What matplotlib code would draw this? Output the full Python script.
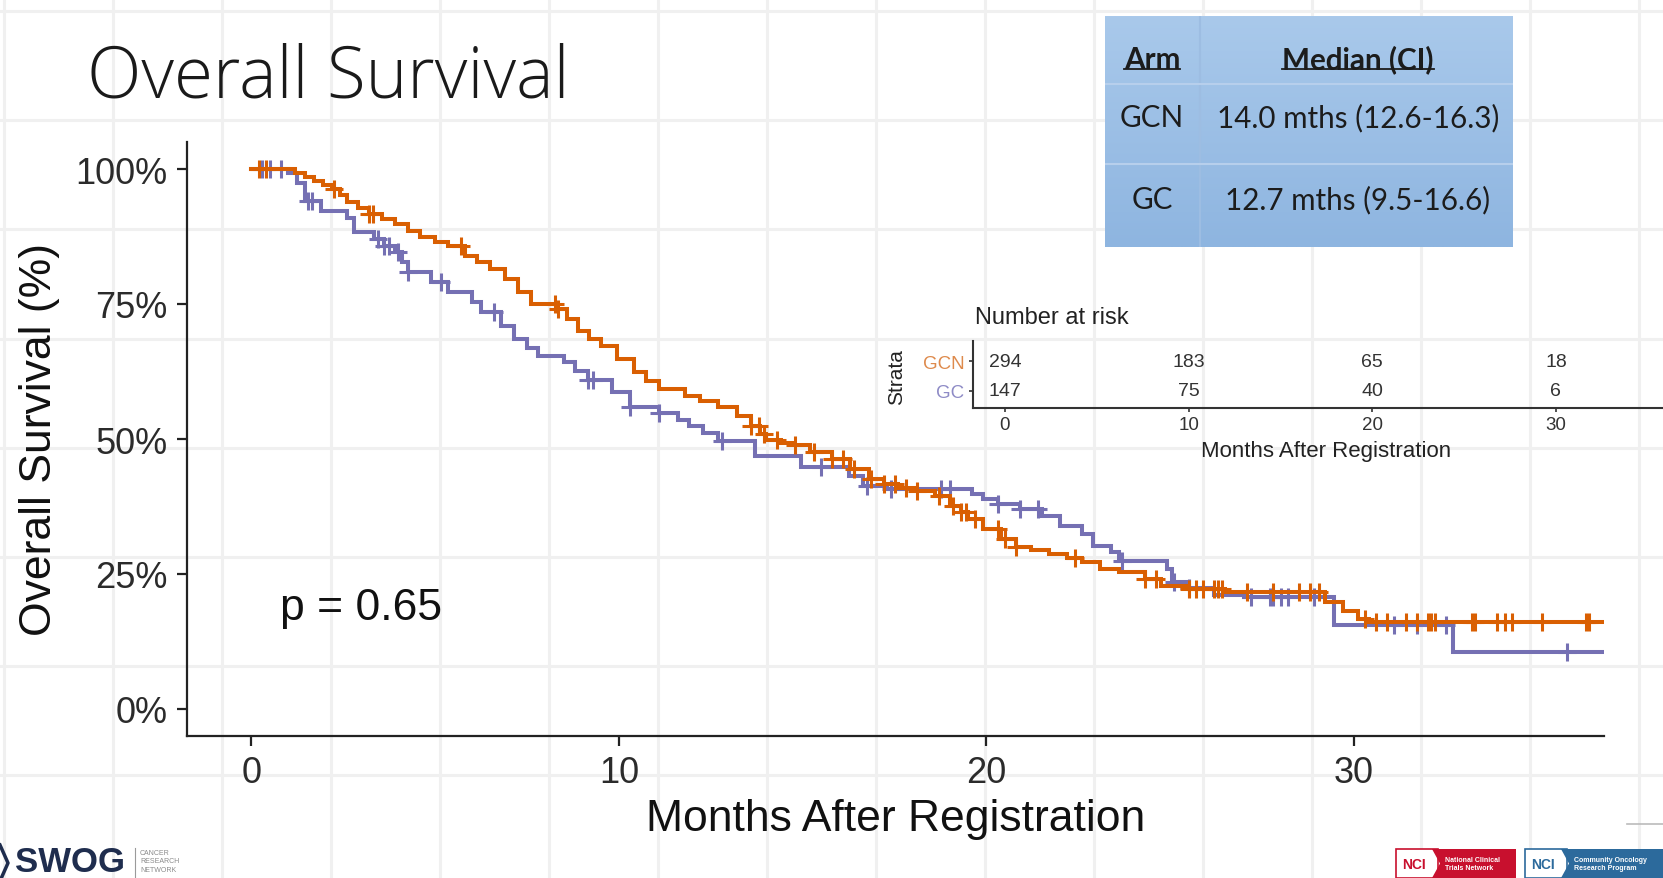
import numpy as np
import matplotlib
matplotlib.use("Agg")
import matplotlib.pyplot as plt
from matplotlib.lines import Line2D
from matplotlib.patches import Rectangle, Polygon

# ---------------- data ----------------
title = "Overall Survival"
arm_names = ["GCN", "GC"]
arm_colors = ["#D95F02", "#7570B3"]

gcn_time = [0, 1.2, 1.45, 1.7, 1.95, 2.2, 2.4, 2.6, 2.9, 3.2, 3.55, 3.9, 4.25, 4.6, 5.0,
            5.35, 5.8, 6.15, 6.5, 6.9, 7.25, 7.6, 8.3, 8.6, 8.9, 9.2, 9.5, 9.95, 10.4, 10.75,
            11.1, 11.8, 12.2, 12.7, 13.2, 13.6, 13.85, 14.0, 14.4, 14.7, 15.2, 15.8, 16.3, 16.8, 17.2,
            17.6, 18.1, 18.6, 19.0, 19.3, 19.5, 19.9, 20.4, 20.8, 21.2, 21.7, 22.2, 22.6, 23.1, 23.6,
            24.3, 24.75, 25.5, 26.5, 29.2, 29.7, 30.1, 30.4, 36.8]
gcn_surv = [100, 99.3, 98.6, 97.8, 97.1, 96.3, 95.2, 93.9, 92.8, 91.7, 90.8, 89.8, 88.6, 87.4, 86.5,
            85.7, 83.9, 82.7, 81.5, 79.6, 77.3, 75.0, 74.0, 72.3, 70.0, 68.6, 67.2, 64.8, 62.4, 60.8,
            59.3, 58.0, 57.0, 55.9, 54.3, 52.4, 50.9, 49.8, 49.2, 48.8, 47.6, 46.3, 44.4, 42.6, 41.7,
            41.0, 40.4, 39.4, 37.6, 36.4, 35.2, 33.3, 31.5, 30.0, 29.4, 28.7, 28.0, 27.2, 25.9, 25.4,
            24.1, 22.8, 22.2, 21.7, 19.8, 18.1, 16.7, 16.2, 16.2]
gcn_censor = [0.2, 0.4, 2.25, 3.2, 3.3, 5.7, 8.25, 8.35, 13.6, 13.8, 13.95, 14.3, 14.8, 15.3, 15.8,
              16.1, 16.4, 16.85, 17.2, 17.5, 17.8, 18.1, 18.7, 19.1, 19.3, 19.45, 19.7, 20.3, 20.5,
              20.8, 22.4, 24.3, 24.6, 25.5, 25.7, 25.9, 26.2, 26.3, 26.4, 27.1, 27.8, 28.5, 28.8,
              29.05, 30.3, 30.6, 30.9, 31.4, 31.7, 32.0, 32.1, 32.2, 33.2, 33.3, 33.9, 34.1, 34.3,
              35.1, 36.3, 36.4]

gc_time = [0, 1.0, 1.25, 1.45, 1.9, 2.6, 2.8, 3.35, 3.6, 3.9, 4.1, 4.25, 4.9, 5.35, 6.0,
           6.25, 6.8, 7.15, 7.5, 7.8, 8.5, 8.8, 9.15, 9.8, 10.3, 11.1, 11.6, 11.9, 12.3, 12.7,
           13.7, 14.95, 16.25, 16.65, 17.3, 19.6, 19.9, 20.3, 20.9, 21.5, 22.0, 22.6, 22.9, 23.4, 23.6,
           24.9, 25.05, 25.5, 26.2, 27.0, 29.45, 32.7, 36.8]
gc_surv = [100, 99.3, 97.5, 94.0, 92.2, 91.0, 88.3, 87.0, 85.8, 84.6, 82.7, 80.9, 79.0, 77.2, 75.4,
           73.5, 71.0, 68.5, 66.9, 65.4, 64.3, 62.6, 61.0, 58.7, 56.0, 54.9, 53.6, 52.4, 51.2, 49.6,
           46.9, 44.8, 43.1, 41.3, 40.7, 39.8, 38.9, 38.0, 37.0, 35.7, 33.9, 32.4, 30.2, 29.0, 27.4,
           25.9, 23.5, 22.4, 21.2, 20.7, 15.6, 10.6, 10.6]
gc_censor = [0.3, 0.5, 0.8, 1.55, 1.65, 3.45, 3.6, 3.75, 4.0, 4.25, 5.15, 6.6, 9.15, 9.3, 10.3,
             11.1, 12.8, 15.5, 16.75, 17.4, 18.75, 19.0, 20.3, 20.9, 21.4, 23.7, 25.1, 25.5, 27.2,
             27.7, 27.8, 28.0, 28.2, 28.9, 31.1, 31.7, 32.5, 35.8]

x_ticks = [0, 10, 20, 30]
y_ticks = [0, 25, 50, 75, 100]
y_ticklabels = ["0%", "25%", "50%", "75%", "100%"]
x_label = "Months After Registration"
y_label = "Overall Survival (%)"
p_text = "p = 0.65"

risk_times = [0, 10, 20, 30]
risk_gcn = [294, 183, 65, 18]
risk_gc = [147, 75, 40, 6]

table_header = ["Arm", "Median (CI)"]
table_arms = ["GCN", "GC"]
table_medians = ["14.0 mths (12.6-16.3)", "12.7 mths (9.5-16.6)"]

# ---------------- figure ----------------
W, H = 1663, 879
fig = plt.figure(figsize=(W / 100, H / 100), dpi=100)
fig.patch.set_facecolor("white")
SANS = ["Liberation Sans", "DejaVu Sans"]
CAL = ["Lato", "Open Sans", "DejaVu Sans"]


def fx(x):
    return x / W


def fy(y):
    return 1 - y / H


# slide background grid
for gx in 4 + 109 * np.arange(16):
    fig.add_artist(Line2D([fx(gx)] * 2, [0, 1], transform=fig.transFigure,
                          color="#F0F0F0", lw=2.2, zorder=-5))
for gy in 12 + 109.2 * np.arange(9):
    fig.add_artist(Line2D([0, 1], [fy(gy)] * 2, transform=fig.transFigure,
                          color="#F0F0F0", lw=2.2, zorder=-5))

renderer = fig.canvas.get_renderer()


def fit_width(t, target):
    w = t.get_window_extent(renderer).width
    t.set_fontsize(t.get_fontsize() * target / w)


# title
tt = fig.text(fx(87), fy(98), title, ha="left", va="baseline", fontsize=55,
              family=["Open Sans", "Lato", "DejaVu Sans"], fontweight="light", color="#1a1a1a")
fit_width(tt, 483)

# ---------------- main KM axes ----------------
ax = fig.add_axes([fx(187), fy(737), (1604 - 187) / W, 594 / H])
ax.patch.set_alpha(0)
ax.set_xlim(-1.75, 36.8)
ax.set_ylim(-5, 105)
for s in ["top", "right"]:
    ax.spines[s].set_visible(False)
for s in ["left", "bottom"]:
    ax.spines[s].set_linewidth(1.6)
    ax.spines[s].set_color("#222222")
ax.set_xticks(x_ticks)
ax.set_yticks(y_ticks)
ax.set_yticklabels(y_ticklabels)
ax.tick_params(axis="both", length=7, width=1.6, color="#222222", labelsize=26,
               labelcolor="#2b2b2b", pad=7)
for lab in ax.get_xticklabels() + ax.get_yticklabels():
    lab.set_family(SANS)

series = [(gc_time, gc_surv, gc_censor, arm_colors[1]),
          (gcn_time, gcn_surv, gcn_censor, arm_colors[0])]
for t, s, c, col in series:
    t = np.asarray(t)
    s = np.asarray(s)
    ax.plot(t, s, drawstyle="steps-post", color=col, lw=2.9, solid_joinstyle="miter")
    c = np.asarray(c)
    idx = np.searchsorted(t, c, side="right") - 1
    ax.plot(c, s[idx], ls="none", marker="+", markersize=13, mew=2.2, color=col)

ax.text(0.78, 16.7, p_text, ha="left", va="baseline", fontsize=32, family=SANS, color="#111111")
ax.set_xlabel(x_label, fontsize=32, family=SANS, color="#111111", va="center")
ax.xaxis.set_label_coords(0.5, (737 - 820) / 594)
ax.set_ylabel(y_label, fontsize=32, family=SANS, color="#111111", va="center")
ax.yaxis.set_label_coords((40 - 187) / 1417, 0.5)

# ---------------- risk table ----------------
rax = fig.add_axes([fx(972.8), fy(409), 708 / W, 67 / H])
rax.patch.set_alpha(0)
rax.set_xlim(-1.75, 36.8)
rax.set_ylim(0.43, 2.67)
for s in ["top", "right"]:
    rax.spines[s].set_visible(False)
for s in ["left", "bottom"]:
    rax.spines[s].set_linewidth(1.5)
    rax.spines[s].set_color("#333333")
for tm, n1, n2 in zip(risk_times, risk_gcn, risk_gc):
    rax.text(tm, 2, str(n1), ha="center", va="center", fontsize=14, family=SANS, color="#333333")
    rax.text(tm, 1, str(n2), ha="center", va="center", fontsize=14, family=SANS, color="#333333")
rax.set_xticks(risk_times)
rax.set_yticks([2, 1])
rax.set_yticklabels(arm_names)
rax.tick_params(axis="both", length=3, width=1.2, color="#333333", labelsize=13.5, pad=3,
                labelcolor="#333333")
for lab, col in zip(rax.get_yticklabels(), ["#DE8A4C", "#8E8BC6"]):
    lab.set_color(col)
    lab.set_family(SANS)
for lab in rax.get_xticklabels():
    lab.set_family(SANS)
fig.text(fx(975), fy(318), "Number at risk", ha="left", va="center", fontsize=17,
         family=SANS, color="#222222")
fig.text(fx(897), fy(377), "Strata", ha="center", va="center", rotation=90, fontsize=15,
         family=SANS, color="#222222")
fig.text(fx(1326), fy(452), x_label, ha="center", va="center", fontsize=16,
         family=SANS, color="#222222")

# ---------------- median table ----------------
tL, tR, tT, tB = 1105, 1513, 17, 248
tax = fig.add_axes([fx(tL), fy(tB), (tR - tL) / W, (tB - tT) / H], zorder=3)
c_top = np.array([0xA9, 0xC9, 0xEB]) / 255
c_bot = np.array([0x8E, 0xB5, 0xE0]) / 255
fr = np.linspace(0, 1, 200)[:, None, None]
grad = c_top[None, None, :] * (1 - fr) + c_bot[None, None, :] * fr
tax.imshow(grad, aspect="auto", extent=[0, 1, 0, 1], interpolation="bilinear")
tax.set_xlim(0, 1)
tax.set_ylim(0, 1)
tax.set_axis_off()


def tx(x):
    return (x - tL) / (tR - tL)


def ty(y):
    return (tB - y) / (tB - tT)


tax.plot([tx(1200)] * 2, [0, 1], color="#9DBDE2", lw=1.5)
for yy in [85, 165]:
    tax.plot([0, 1], [ty(yy)] * 2, color="#B7CFEC", lw=1.5)

col_c = [1152, 1358]
row_y = [118, 200]
ref = tax.text(tx(col_c[1]), ty(row_y[0]), table_medians[0], ha="center", va="center",
               fontsize=22, family=CAL, color="#1c1c1c")
fit_width(ref, 282)
fs_tab = ref.get_fontsize()
tax.text(tx(col_c[1]), ty(row_y[1]), table_medians[1], ha="center", va="center",
         fontsize=fs_tab, family=CAL, color="#1c1c1c")
for i, a in enumerate(table_arms):
    tax.text(tx(col_c[0]), ty(row_y[i]), a, ha="center", va="center", fontsize=fs_tab,
             family=CAL, color="#1c1c1c")
for j, h in enumerate(table_header):
    ht = tax.text(tx(col_c[j]), ty(60), h, ha="center", va="center", fontsize=fs_tab,
                  family=CAL, fontweight="bold", color="#1c1c1c")
    bb = ht.get_window_extent(renderer)
    x0 = (bb.x0 - tL) / (tR - tL)
    x1 = (bb.x1 - tL) / (tR - tL)
    tax.plot([x0, x1], [ty(70)] * 2, color="#1c1c1c", lw=1.3)

# ---------------- logos ----------------
fig.add_artist(Line2D([fx(0), fx(8), fx(0)], [fy(846), fy(864), fy(882)],
                      transform=fig.transFigure, color="#1F2D4E", lw=2.5))
sw = fig.text(fx(15), fy(846), "SWOG", ha="left", va="top", fontsize=36,
              family=["Liberation Sans Narrow", "Liberation Sans", "DejaVu Sans"],
              fontweight="bold", color="#1F2D4E")
fit_width(sw, 110)
fig.add_artist(Line2D([fx(135)] * 2, [fy(849), fy(879)], transform=fig.transFigure,
                      color="#9A9A9A", lw=0.8))
fig.text(fx(140), fy(850), "CANCER\nRESEARCH\nNETWORK", ha="left", va="top", fontsize=5,
         family=SANS, color="#8A8A8A", linespacing=1.3)

# NCI logos
for (x0, xm, x1, col, txt) in [(1396, 1432, 1516, "#C8102E", "National Clinical\nTrials Network"),
                                (1525, 1561, 1663, "#2C6A9C", "Community Oncology\nResearch Program")]:
    fig.add_artist(Rectangle((fx(x0), fy(879)), (xm - x0 + 6) / W, 29 / H,
                             transform=fig.transFigure, facecolor="white", edgecolor=col, lw=1.2))
    fig.add_artist(Polygon([(fx(xm), fy(850)), (fx(x1), fy(850)), (fx(x1), fy(879)),
                            (fx(xm), fy(879)), (fx(xm + 8), fy(864.5))],
                           closed=True, transform=fig.transFigure, facecolor=col, edgecolor="none"))
    fig.text(fx((x0 + xm) / 2), fy(865), "NCI", ha="center", va="center", fontsize=10,
             family=SANS, fontweight="bold", color=col)
    fig.text(fx(xm + 13), fy(864.5), txt, ha="left", va="center", fontsize=5,
             family=SANS, fontweight="bold", color="white", linespacing=1.2)
fig.add_artist(Line2D([fx(1627), fx(1663)], [fy(825)] * 2, transform=fig.transFigure,
                      color="#BBBBBB", lw=1.2))

fig.savefig("out.png", dpi=100)
